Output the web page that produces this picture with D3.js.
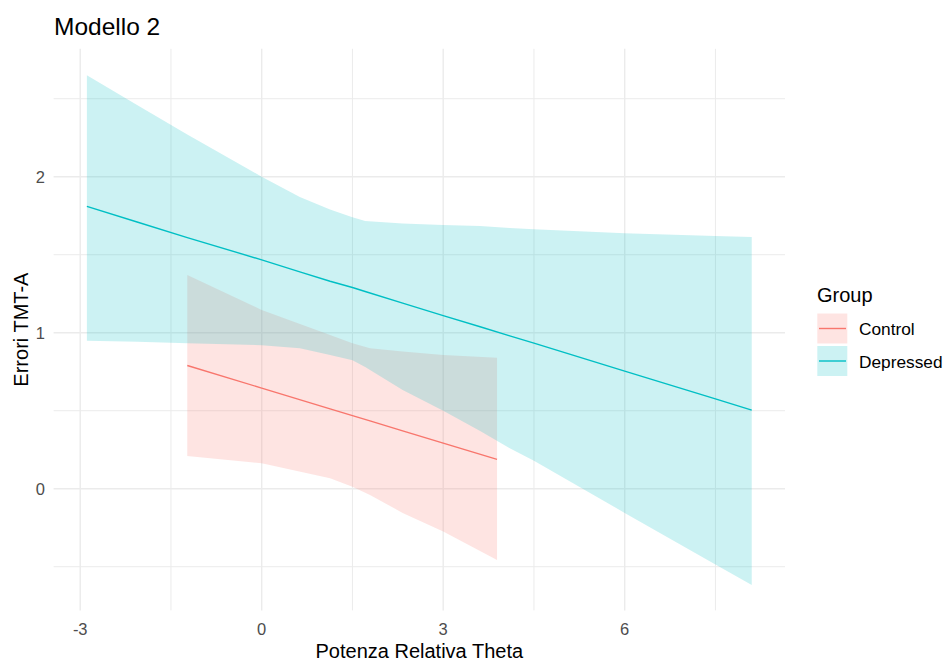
<!DOCTYPE html>
<html>
<head>
<meta charset="utf-8">
<script src="https://cdn.jsdelivr.net/npm/d3@7"></script>
<style>
  html, body { margin: 0; padding: 0; background: #ffffff; }
  svg { display: block; font-family: "Liberation Sans", Arial, sans-serif; }
</style>
</head>
<body>
<svg id="chart" width="947" height="662"></svg>
<script>
// ---- Data ----
const groups = ["Control", "Depressed"];
const groupColors = ["#F8766D", "#00BFC4"];

const controlX     = [-1.23, 0, 1.13, 1.5, 1.79, 2.33, 3, 3.89];
const controlFit   = [0.79, 0.645, 0.512, 0.469, 0.435, 0.371, 0.292, 0.188];
const controlUpper = [1.37, 1.146, 0.985, 0.932, 0.90, 0.88, 0.857, 0.84];
const controlLower = [0.21, 0.163, 0.067, 0.013, -0.04, -0.155, -0.275, -0.457];

const depressedX     = [-2.89, -2.06, -1.23, 0, 0.63, 1.13, 1.5, 1.71, 2.33, 3, 3.61, 4.1, 4.5, 6, 7.5, 8.1];
const depressedFit   = [1.81, 1.71, 1.61, 1.467, 1.39, 1.33, 1.29, 1.264, 1.19, 1.11, 1.038, 0.98, 0.933, 0.754, 0.576, 0.504];
const depressedUpper = [2.65, 2.46, 2.27, 2.0, 1.87, 1.79, 1.74, 1.716, 1.70, 1.69, 1.684, 1.672, 1.663, 1.637, 1.62, 1.613];
const depressedLower = [0.949, 0.942, 0.932, 0.92, 0.90, 0.857, 0.824, 0.78, 0.633, 0.50, 0.37, 0.26, 0.18, -0.155, -0.485, -0.617];

const xMajorTicks = [-3, 0, 3, 6];
const xMinorTicks = [-1.5, 1.5, 4.5, 7.5];
const yMajorTicks = [0, 1, 2];
const yMinorTicks = [-0.5, 0.5, 1.5, 2.5];

const titleText = "Modello 2";
const xTitle = "Potenza Relativa Theta";
const yTitle = "Errori TMT-A";
const legendTitle = "Group";

// ---- Layout ----
const svg = d3.select("#chart");
const panel = { left: 53.6, right: 785, top: 48.8, bottom: 610.4 };

const x = d3.scaleLinear().domain([-3.44, 8.65]).range([panel.left, panel.right]);
const y = d3.scaleLinear().domain([-0.78, 2.82]).range([panel.bottom, panel.top]);

const gridColor = "#EBEBEB";
const g = svg.append("g");

// minor gridlines
g.selectAll(".xminor").data(xMinorTicks).enter().append("line")
  .attr("x1", d => x(d)).attr("x2", d => x(d))
  .attr("y1", panel.top).attr("y2", panel.bottom)
  .attr("stroke", gridColor).attr("stroke-width", 1);
g.selectAll(".yminor").data(yMinorTicks).enter().append("line")
  .attr("y1", d => y(d)).attr("y2", d => y(d))
  .attr("x1", panel.left).attr("x2", panel.right)
  .attr("stroke", gridColor).attr("stroke-width", 1);
// major gridlines
g.selectAll(".xmajor").data(xMajorTicks).enter().append("line")
  .attr("x1", d => x(d)).attr("x2", d => x(d))
  .attr("y1", panel.top).attr("y2", panel.bottom)
  .attr("stroke", gridColor).attr("stroke-width", 1.4);
g.selectAll(".ymajor").data(yMajorTicks).enter().append("line")
  .attr("y1", d => y(d)).attr("y2", d => y(d))
  .attr("x1", panel.left).attr("x2", panel.right)
  .attr("stroke", gridColor).attr("stroke-width", 1.4);

// ---- Series ----
function rows(xs, fit, lo, hi) {
  return xs.map((v, i) => ({ x: v, fit: fit[i], lo: lo[i], hi: hi[i] }));
}
const series = [
  { name: groups[0], color: groupColors[0], data: rows(controlX, controlFit, controlLower, controlUpper) },
  { name: groups[1], color: groupColors[1], data: rows(depressedX, depressedFit, depressedLower, depressedUpper) }
];

const area = d3.area().x(d => x(d.x)).y0(d => y(d.lo)).y1(d => y(d.hi));
const line = d3.line().x(d => x(d.x)).y(d => y(d.fit));

series.forEach(s => {
  g.append("path").attr("d", area(s.data)).attr("fill", s.color).attr("fill-opacity", 0.2);
});
series.forEach(s => {
  g.append("path").attr("d", line(s.data)).attr("fill", "none")
    .attr("stroke", s.color).attr("stroke-width", 1.4);
});

// ---- Axes text ----
const tickColor = "#4D4D4D";
const smallSize = 16.5;
g.selectAll(".xt").data(xMajorTicks).enter().append("text")
  .attr("x", d => x(d)).attr("y", 635)
  .attr("text-anchor", "middle").attr("fill", tickColor)
  .attr("font-size", smallSize).text(d => d);
g.selectAll(".yt").data(yMajorTicks).enter().append("text")
  .attr("x", 45).attr("y", d => y(d) + 6)
  .attr("text-anchor", "end").attr("fill", tickColor)
  .attr("font-size", smallSize).text(d => d);

svg.append("text").attr("x", (panel.left + panel.right) / 2).attr("y", 658)
  .attr("text-anchor", "middle").attr("font-size", 20).attr("fill", "#000").text(xTitle);
svg.append("text")
  .attr("transform", `translate(28,${(panel.top + panel.bottom) / 2}) rotate(-90)`)
  .attr("text-anchor", "middle").attr("font-size", 20).attr("fill", "#000").text(yTitle);

svg.append("text").attr("x", 54).attr("y", 35)
  .attr("font-size", 24.5).attr("fill", "#000").text(titleText);

// ---- Legend ----
const leg = svg.append("g");
leg.append("text").attr("x", 817).attr("y", 302).attr("font-size", 20).attr("fill", "#000").text(legendTitle);
series.forEach((s, i) => {
  const top = 313.5 + i * 32.5;
  leg.append("rect").attr("x", 817.3).attr("y", top).attr("width", 30).attr("height", 30)
    .attr("fill", s.color).attr("fill-opacity", 0.2);
  leg.append("line").attr("x1", 819).attr("x2", 846).attr("y1", top + 15).attr("y2", top + 15)
    .attr("stroke", s.color).attr("stroke-width", 1.4);
  leg.append("text").attr("x", 859).attr("y", top + 21.5)
    .attr("font-size", 17.3).attr("fill", "#000").text(s.name);
});
</script>
</body>
</html>
